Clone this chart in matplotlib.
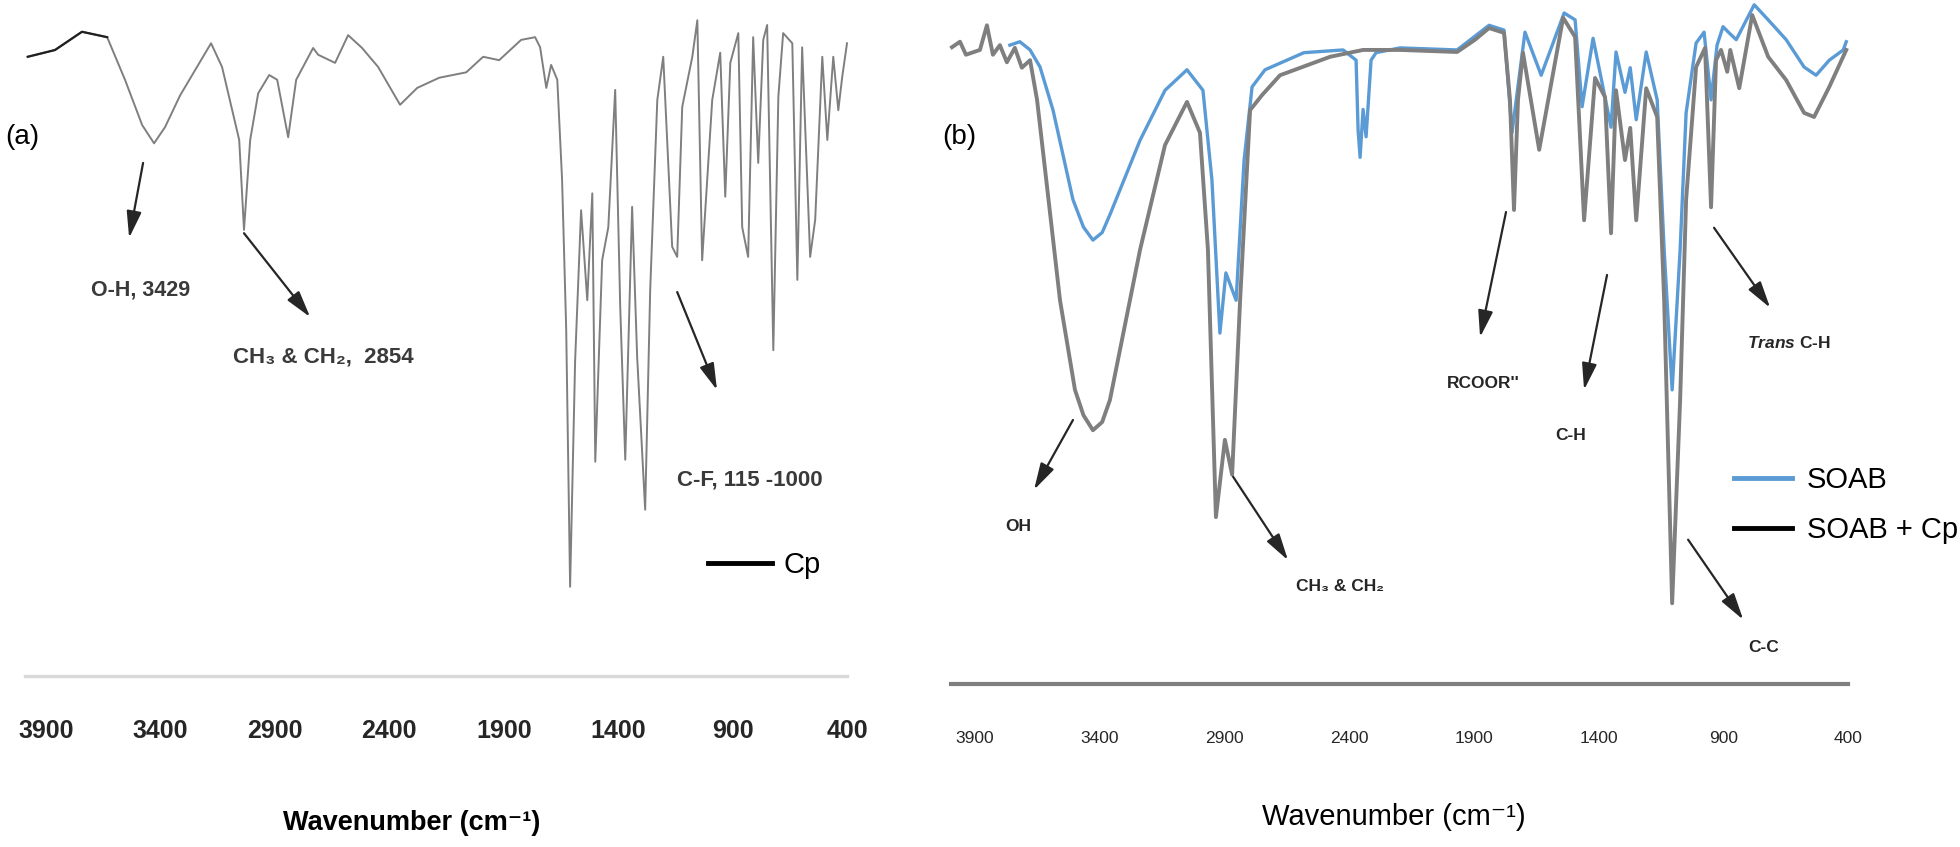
""" FTIR spectra of Cp (a) and SOAB / SOAB + Cp (b). """

import matplotlib
matplotlib.use("Agg")
import matplotlib.pyplot as plt
from matplotlib.lines import Line2D

plt.rcParams['font.family'] = ['Liberation Sans Narrow', 'Liberation Sans', 'DejaVu Sans']
plt.rcParams['mathtext.fontset'] = 'custom'
plt.rcParams['mathtext.it'] = 'Liberation Sans:italic:bold'
plt.rcParams['mathtext.rm'] = 'Liberation Sans:bold'

TICKS = [3900, 3400, 2900, 2400, 1900, 1400, 900, 400]

# (a) Cp spectrum, wavenumber (cm-1) and transmittance (a.u.)
WN_CP = [3980, 3861, 3743, 3633, 3555, 3480, 3428, 3380, 3314, 3179, 3131, 3056, 3035,
         3008, 2973, 2925, 2890, 2842, 2807, 2733, 2711, 2637, 2580, 2519, 2449, 2353,
         2278, 2182, 2064, 1990, 1920, 1824, 1763, 1741, 1714, 1693, 1666, 1645, 1627,
         1610, 1588, 1562, 1535, 1513, 1500, 1470, 1443, 1413, 1391, 1369, 1339, 1317,
         1282, 1260, 1229, 1203, 1164, 1142, 1120, 1076, 1054, 1033, 989, 954, 932, 910,
         875, 858, 832, 810, 788, 766, 749, 722, 700, 679, 639, 617, 596, 561, 539, 508,
         486, 460, 438, 421, 400]
T_CP = [91.6, 92.6, 95.3, 94.5, 88.2, 81.5, 78.8, 81.2, 85.9, 93.6, 90.1, 79.3, 66.0,
        79.3, 86.2, 88.9, 88.2, 79.7, 88.2, 92.9, 91.9, 90.7, 94.8, 92.9, 90.1, 84.5,
        87.0, 88.5, 89.3, 91.6, 91.1, 94.1, 94.5, 93.0, 87.0, 90.4, 88.2, 73.4, 51.2,
        13.2, 46.7, 68.9, 55.6, 71.4, 31.7, 61.5, 66.4, 86.7, 54.6, 32.0, 69.4, 47.2,
        24.6, 57.1, 85.2, 91.6, 63.5, 62.0, 84.2, 91.6, 97.0, 61.5, 85.2, 92.2, 70.9,
        90.7, 95.1, 66.4, 62.0, 94.5, 75.9, 94.1, 96.3, 48.2, 85.7, 95.1, 93.6, 58.6,
        93.0, 62.0, 67.5, 91.6, 79.3, 91.6, 83.7, 88.6, 93.6]

# (b) SOAB + Cp
WN_SOAB_CP = [3992, 3960, 3936, 3880, 3852, 3828, 3800, 3772, 3740, 3712, 3679, 3651,
              3611, 3559, 3499, 3465, 3427, 3390, 3359, 3238, 3138, 3050, 2998, 2966,
              2934, 2898, 2869, 2837, 2797, 2749, 2677, 2476, 2344, 2196, 1967, 1895,
              1839, 1779, 1755, 1739, 1723, 1703, 1638, 1542, 1494, 1458, 1414, 1374,
              1350, 1330, 1294, 1273, 1249, 1209, 1165, 1137, 1105, 1073, 1049, 1009,
              973, 949, 929, 909, 884, 872, 836, 784, 720, 648, 576, 536, 475, 407]
T_SOAB_CP = [93.1, 93.9, 92.0, 92.7, 96.3, 92.0, 93.4, 90.9, 93.0, 90.1, 91.2, 85.4,
             72.7, 56.1, 43.0, 39.3, 37.1, 38.3, 41.5, 63.5, 78.8, 85.1, 80.6, 63.5,
             24.4, 35.7, 30.6, 56.1, 83.9, 86.1, 89.0, 91.7, 92.7, 92.7, 92.4, 94.2,
             95.9, 95.2, 85.4, 69.3, 85.4, 92.3, 78.1, 97.4, 94.6, 67.8, 88.6, 85.8,
             65.9, 86.8, 76.6, 81.3, 67.8, 87.1, 82.9, 56.1, 11.8, 41.5, 70.8, 90.2,
             93.0, 69.7, 91.2, 92.7, 89.5, 92.7, 87.1, 97.8, 91.7, 88.3, 83.5, 82.9,
             87.3, 92.7]

# (b) SOAB
WN_SOAB = [3760, 3720, 3679, 3639, 3587, 3507, 3465, 3427, 3390, 3359, 3238, 3138, 3050,
           2986, 2950, 2918, 2894, 2853, 2821, 2789, 2737, 2581, 2424, 2372, 2364, 2356,
           2344, 2332, 2312, 2292, 2196, 1967, 1839, 1779, 1747, 1695, 1630, 1538, 1494,
           1466, 1422, 1350, 1330, 1294, 1273, 1249, 1209, 1165, 1137, 1105, 1073, 1049,
           1009, 977, 949, 925, 901, 877, 848, 776, 720, 648, 576, 528, 475, 419, 407]
T_SOAB = [93.4, 93.9, 92.7, 90.2, 83.9, 70.8, 66.8, 64.9, 66.0, 68.6, 79.5, 86.8, 89.8,
          86.8, 73.7, 51.3, 60.1, 56.1, 76.6, 87.3, 89.8, 92.3, 92.7, 91.2, 81.0, 77.0,
          84.0, 80.0, 91.2, 92.3, 93.0, 92.7, 96.3, 95.6, 80.6, 95.3, 89.0, 98.1, 97.1,
          84.4, 94.4, 81.4, 92.4, 86.5, 90.1, 82.5, 92.4, 85.4, 63.5, 43.0, 63.5, 83.5,
          93.7, 95.3, 85.4, 93.4, 96.1, 95.2, 94.2, 99.3, 97.1, 94.2, 90.2, 89.0, 91.2,
          92.7, 93.9]

BLUE = '#5b9bd5'
GRAY = '#7f7f7f'
TXT = '#3a3a3a'


def style_axis(ax, xmax, spine_color, spine_lw, label_size, label_weight, pad):
    """Reversed wavenumber axis with only the bottom line kept."""
    ax.set_xlim(xmax, 400)
    ax.set_ylim(0, 100)
    for side in ('top', 'left', 'right'):
        ax.spines[side].set_visible(False)
    ax.spines['bottom'].set_color(spine_color)
    ax.spines['bottom'].set_linewidth(spine_lw)
    ax.set_yticks([])
    ax.set_xticks(TICKS)
    ax.tick_params(axis='x', length=0, pad=pad, labelsize=label_size, labelcolor='#262626')
    for lab in ax.get_xticklabels():
        lab.set_fontweight(label_weight)


def arrow(ax, start, end):
    ax.annotate('', xy=end, xytext=start,
                arrowprops=dict(arrowstyle='-|>,head_width=0.25,head_length=0.9',
                                color='#262626', lw=1.6, shrinkA=0, shrinkB=0,
                                mutation_scale=18))


fig = plt.figure(figsize=(19.6, 8.47), dpi=100)

# ---- panel (a)
ax_a = fig.add_axes([25 / 1960, 171 / 847, 822 / 1960, 676 / 847])
ax_a.plot(WN_CP, T_CP, color=GRAY, lw=1.4, clip_on=False)
ax_a.plot(WN_CP[:4], T_CP[:4], color='#202020', lw=1.6, clip_on=False)
style_axis(ax_a, 3992, '#d9d9d9', 2.4, 18, 'bold', 31)
ax_a.set_xlabel('Wavenumber (cm\u207b\u00b9)', fontsize=19.5, fontweight='bold')
ax_a.xaxis.set_label_coords(0.47, -0.2175)
ax_a.xaxis.label.set_va('center')

ax_a.text(-0.024, 0.797, '(a)', transform=ax_a.transAxes, fontsize=20,
          ha='left', va='center')
arrow(ax_a, (3476, 75.9), (3537, 64.8))
ax_a.text(3489, 57.1, 'O-H, 3429', fontsize=15.5, fontweight='bold', color=TXT,
          ha='center', va='center')
arrow(ax_a, (3035, 65.5), (2746, 53.1))
ax_a.text(3083, 47.2, 'CH\u2083 & CH\u2082,  2854', fontsize=16, fontweight='bold',
          color=TXT, ha='left', va='center')
arrow(ax_a, (1142, 56.8), (968, 42.3))
ax_a.text(1142, 29.0, 'C-F, 115 -1000', fontsize=16, fontweight='bold', color=TXT,
          ha='left', va='center')
ax_a.legend(handles=[Line2D([], [], color='black', lw=3.5)], labels=['Cp'],
            loc='center left', bbox_to_anchor=(0.831, 0.164), frameon=False,
            borderpad=0, borderaxespad=0, handlelength=2.2, handletextpad=0.4,
            fontsize=21)

# ---- panel (b)
ax_b = fig.add_axes([951 / 1960, 163 / 847, 897 / 1960, 684 / 847])
ax_b.plot(WN_SOAB, T_SOAB, color=BLUE, lw=2.4, clip_on=False)
ax_b.plot(WN_SOAB_CP, T_SOAB_CP, color=GRAY, lw=2.8, clip_on=False)
style_axis(ax_b, 3996, GRAY, 3.0, 12.5, 'normal', 34)
ax_b.set_xlabel('Wavenumber (cm\u207b\u00b9)', fontsize=21)
ax_b.xaxis.set_label_coords(0.494, -0.194)
ax_b.xaxis.label.set_va('center')

ax_b.text(-0.01, 0.8, '(b)', transform=ax_b.transAxes, fontsize=20,
          ha='left', va='center')
ann = dict(fontsize=12.5, fontweight='bold', color='#262626', ha='center', va='center')
arrow(ax_b, (3507, 38.6), (3663, 28.4))
ax_b.text(3728, 23.0, 'OH', **ann)
arrow(ax_b, (2865, 30.3), (2645, 18.1))
ax_b.text(2436, 14.2, 'CH\u2083 & CH\u2082', **ann)
arrow(ax_b, (1771, 69.0), (1875, 50.7))
ax_b.text(1863, 44.0, "RCOOR''", **ann)
arrow(ax_b, (1366, 59.8), (1458, 43.0))
ax_b.text(1510, 36.4, 'C-H', **ann)
arrow(ax_b, (937, 66.7), (712, 55.0))
ax_b.text(636, 49.9, r'$\mathit{Trans}$ C-H', **ann)
arrow(ax_b, (1041, 21.1), (820, 9.4))
ax_b.text(740, 5.4, 'C-C', **ann)

leg_handles = [Line2D([], [], color=BLUE, lw=3.5), Line2D([], [], color='black', lw=3.5)]
ax_b.legend(handles=leg_handles, labels=['SOAB', 'SOAB + Cp'], loc='center left',
            bbox_to_anchor=(0.873, 0.262), frameon=False, borderpad=0,
            borderaxespad=0, handlelength=2.0, handletextpad=0.5, labelspacing=0.75,
            fontsize=21)

fig.savefig('out.png', dpi=100)
